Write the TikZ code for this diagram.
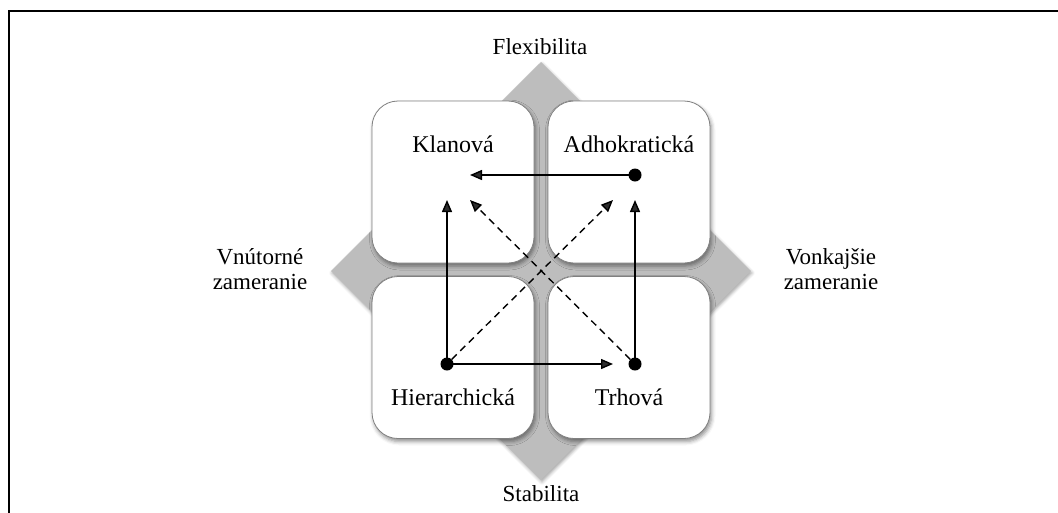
\documentclass[tikz,border=0pt]{standalone}
\usepackage{fontspec}
\setmainfont{Liberation Serif}
\usetikzlibrary{arrows.meta,shadows.blur}
\definecolor{diagray}{HTML}{BDBDBD}
\definecolor{boxline}{HTML}{808080}
\tikzset{
  quad/.style={draw=boxline, line width=0.8pt, fill=white, rounded corners=26pt,
    minimum width=162pt, minimum height=162pt, inner sep=0pt,
    blur shadow={shadow xshift=1.5pt, shadow yshift=-3pt, shadow blur radius=4pt, shadow opacity=45}},
  qlabel/.style={font=\fontsize{24}{26}\selectfont, inner sep=0pt},
  slabel/.style={font=\fontsize{23}{25}\selectfont, align=center, inner sep=0pt},
  dotnode/.style={circle, fill=black, minimum size=13pt, inner sep=0pt},
  arr/.style={line width=1.4pt, -{Triangle[length=12pt,width=10pt]}, shorten >=0pt},
  darr/.style={arr, dash pattern=on 7pt off 5pt},
}
\begin{document}
\begin{tikzpicture}[x=1pt,y=-1pt]
\useasboundingbox (0,0) rectangle (1058,512);
\draw[line width=1.6pt] (9,540) -- (9,11) -- (1080,11);
% diamond
\fill[diagray, blur shadow={shadow xshift=1pt, shadow yshift=-2pt, shadow blur radius=3pt, shadow opacity=35}]
  (541,62) -- (751,271) -- (541,480) -- (331,271) -- cycle;
% boxes
\node[quad] (kb) at (453,182) {};
\node[quad] (ab) at (629,182) {};
\node[quad] (hb) at (453,357.5) {};
\node[quad] (tb) at (629,357.5) {};
% labels
\node[qlabel] (kl) at (453,144) {Klanová};
\node[qlabel] (al) at (629,144) {Adhokratická};
\node[qlabel] (hl) at (453,397) {Hierarchická};
\node[qlabel] (tl) at (629,397) {Trhová};
\node[slabel] (flex) at (540,47) {Flexibilita};
\node[slabel] (stab) at (541,494) {Stabilita};
\node[slabel] (vnu) at (260,269) {Vnútorné\\zameranie};
\node[slabel] (von) at (831,269) {Vonkajšie\\zameranie};
% dots
\node[dotnode] (ad) at (635,175) {};
\node[dotnode] (hd) at (447,364) {};
\node[dotnode] (td) at (635,364) {};
% arrow ends
\coordinate (kend) at (470,175);
\coordinate (hup) at (447,200);
\coordinate (tup) at (635,200);
\coordinate (tend) at (613,364);
\coordinate (adiag) at (613,200);
\coordinate (kdiag) at (470,200);
% connectors
\draw[arr] (ad.center) -- (kend);
\draw[arr] (hd.center) -- (hup);
\draw[arr] (td.center) -- (tup);
\draw[arr] (hd.center) -- (tend);
\draw[darr] (hd) -- (adiag);
\draw[darr] (td) -- (kdiag);
\end{tikzpicture}
\end{document}
